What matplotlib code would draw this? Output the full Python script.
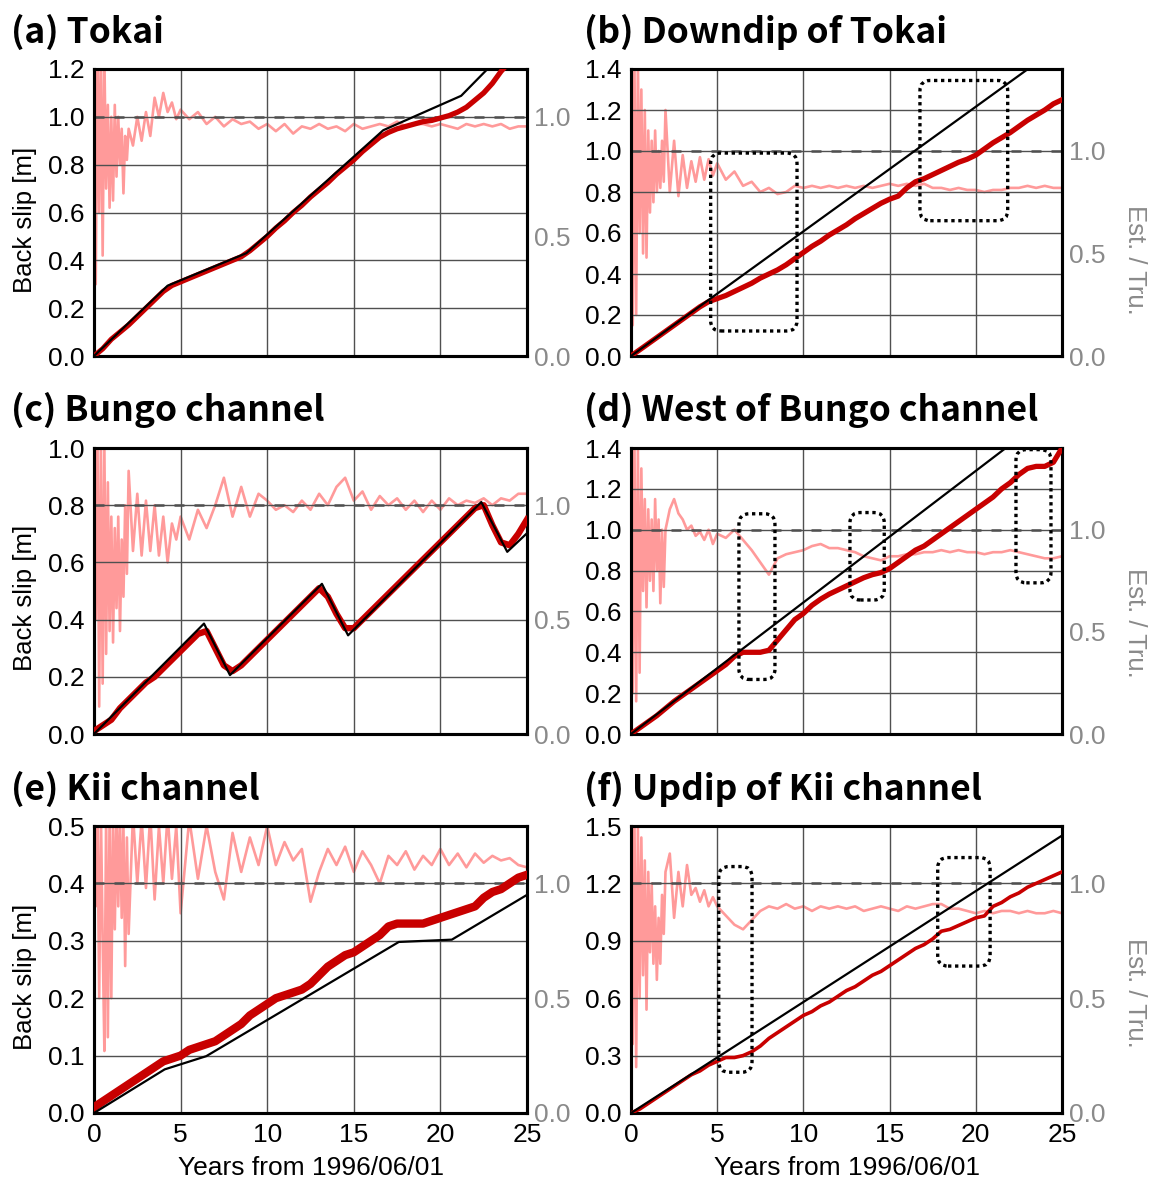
import numpy as np
import matplotlib
matplotlib.use("Agg")
import matplotlib.pyplot as plt
from matplotlib.patches import FancyBboxPatch

# ---------------- data ----------------
# sampling times (years from 1996/06/01)
T_EST = np.arange(0, 25.01, 0.5)
T_RATIO = np.concatenate([np.arange(0, 1.95, 0.1), np.arange(2, 4.8, 0.25), np.arange(5, 25.01, 0.5)])

# estimated back slip [m]
EST_A = [0.0, 0.03, 0.07, 0.1, 0.13, 0.165, 0.2, 0.235, 0.27, 0.295,
         0.31, 0.325, 0.34, 0.355, 0.37, 0.385, 0.4, 0.415, 0.44, 0.47,
         0.5, 0.535, 0.565, 0.6, 0.63, 0.665, 0.695, 0.725, 0.76, 0.79,
         0.82, 0.855, 0.885, 0.915, 0.935, 0.95, 0.96, 0.97, 0.98, 0.985,
         0.995, 1.005, 1.02, 1.04, 1.07, 1.1, 1.14, 1.19, 1.23, 1.26,
         1.29]
EST_B = [0.0, 0.03, 0.06, 0.09, 0.12, 0.15, 0.18, 0.21, 0.24, 0.265,
         0.28, 0.295, 0.315, 0.335, 0.355, 0.38, 0.4, 0.42, 0.445, 0.475,
         0.505, 0.535, 0.56, 0.59, 0.615, 0.64, 0.67, 0.695, 0.72, 0.745,
         0.765, 0.78, 0.82, 0.85, 0.865, 0.885, 0.905, 0.925, 0.945, 0.96,
         0.98, 1.01, 1.04, 1.065, 1.09, 1.12, 1.15, 1.175, 1.2, 1.23,
         1.25]
EST_C = [0.01, 0.03, 0.05, 0.09, 0.12, 0.15, 0.18, 0.2, 0.23, 0.26,
         0.29, 0.32, 0.35, 0.36, 0.3, 0.24, 0.22, 0.24, 0.27, 0.3,
         0.33, 0.36, 0.39, 0.42, 0.45, 0.48, 0.51, 0.48, 0.42, 0.37,
         0.37, 0.4, 0.43, 0.46, 0.49, 0.52, 0.55, 0.58, 0.61, 0.64,
         0.67, 0.7, 0.73, 0.76, 0.79, 0.8, 0.73, 0.67, 0.66, 0.7,
         0.75]
EST_D = [0.0, 0.03, 0.06, 0.09, 0.125, 0.16, 0.19, 0.22, 0.25, 0.28,
         0.31, 0.34, 0.38, 0.4, 0.4, 0.4, 0.41, 0.46, 0.51, 0.56,
         0.59, 0.63, 0.66, 0.685, 0.705, 0.725, 0.745, 0.765, 0.78, 0.79,
         0.81, 0.84, 0.87, 0.9, 0.92, 0.95, 0.98, 1.01, 1.04, 1.07,
         1.1, 1.13, 1.16, 1.2, 1.23, 1.27, 1.3, 1.31, 1.31, 1.33,
         1.4]
EST_E = [0.01, 0.02, 0.03, 0.04, 0.05, 0.06, 0.07, 0.08, 0.09, 0.095,
         0.1, 0.11, 0.115, 0.12, 0.125, 0.135, 0.145, 0.155, 0.17, 0.18,
         0.19, 0.2, 0.205, 0.21, 0.215, 0.225, 0.24, 0.255, 0.265, 0.275,
         0.28, 0.29, 0.3, 0.31, 0.325, 0.33, 0.33, 0.33, 0.33, 0.335,
         0.34, 0.345, 0.35, 0.355, 0.36, 0.375, 0.385, 0.39, 0.4, 0.41,
         0.415]
EST_F = [0.0, 0.02, 0.05, 0.08, 0.11, 0.14, 0.17, 0.2, 0.22, 0.25,
         0.27, 0.29, 0.29, 0.3, 0.32, 0.35, 0.39, 0.42, 0.45, 0.48,
         0.51, 0.53, 0.56, 0.58, 0.61, 0.64, 0.66, 0.69, 0.72, 0.74,
         0.77, 0.8, 0.83, 0.86, 0.88, 0.91, 0.95, 0.96, 0.98, 1.0,
         1.02, 1.03, 1.08, 1.1, 1.13, 1.15, 1.18, 1.2, 1.22, 1.24,
         1.26]

# true back slip (piecewise linear breakpoints)
TRUE_A_T = [0, 4.25, 8.8, 16.7, 21.2, 25]
TRUE_A = [0, 0.294, 0.43, 0.944, 1.088, 1.368]
TRUE_B_T = [0, 25]
TRUE_B = [0, 1.52]
TRUE_C_T = [0, 6.35, 7.85, 13.16, 14.67, 22.36, 23.86, 25]
TRUE_C = [0, 0.386, 0.206, 0.525, 0.345, 0.811, 0.637, 0.702]
TRUE_D_T = [0, 25]
TRUE_D = [0, 1.61]
TRUE_E_T = [0, 4.08, 6.48, 17.6, 20.66, 25]
TRUE_E = [0, 0.076, 0.099, 0.298, 0.302, 0.38]
TRUE_F_T = [0, 25]
TRUE_F = [0, 1.45]

# estimated / true ratio
RATIO_A = [1.3, 0.3, 1.3, 0.6, 1.3, 0.42, 1.25, 0.7, 1.05, 0.62, 1.0, 0.65, 1.05, 0.75, 1.0, 0.8, 0.95, 0.68, 0.92, 0.82,
           0.95, 0.88, 1.0, 0.9, 1.02, 0.92, 1.08, 1.0, 1.1, 1.02, 1.06, 0.99,
           1.03, 0.99, 1.02, 0.97, 1.0, 0.96, 0.99, 0.97, 0.98, 0.95,
           0.97, 0.94, 0.97, 0.93, 0.96, 0.95, 0.97, 0.95, 0.96, 0.94,
           0.97, 0.95, 0.96, 0.97, 0.96, 0.98, 0.96, 0.97, 0.97, 0.96,
           0.97, 0.96, 0.95, 0.97, 0.96, 0.97, 0.96, 0.97, 0.95, 0.96, 0.96]
RATIO_B = [1.5, 0.15, 1.45, 0.2, 1.45, 0.6, 1.3, 0.5, 1.2, 0.48, 1.1, 0.7, 1.05, 0.75, 1.1, 0.8, 1.0, 0.82, 1.05, 0.85,
           1.2, 0.8, 1.05, 0.78, 0.98, 0.82, 0.95, 0.85, 0.97, 0.86, 0.96, 0.88,
           0.94, 0.86, 0.9, 0.83, 0.85, 0.8, 0.82, 0.79, 0.8, 0.83,
           0.82, 0.83, 0.82, 0.83, 0.82, 0.83, 0.82, 0.83, 0.82, 0.83,
           0.84, 0.83, 0.84, 0.83, 0.84, 0.82, 0.82, 0.81, 0.82, 0.81,
           0.81, 0.8, 0.81, 0.81, 0.82, 0.82, 0.83, 0.82, 0.83, 0.82, 0.82]
RATIO_C = [1.3, 0.5, 1.3, 0.12, 1.3, 0.22, 1.25, 0.35, 1.1, 0.45, 0.95, 0.4, 0.9, 0.55, 0.95, 0.45, 0.85, 0.6, 1.0, 0.7,
           1.15, 0.8, 1.05, 0.78, 1.02, 0.8, 1.0, 0.78, 0.95, 0.75, 0.92, 0.85,
           0.95, 0.85, 0.98, 0.9, 1.0, 1.12, 0.95, 1.08, 0.95, 1.05,
           1.02, 0.98, 1.0, 0.97, 1.02, 0.98, 1.05, 1.0, 1.08, 1.12,
           1.02, 1.06, 0.98, 1.04, 1.0, 1.03, 0.98, 1.02, 0.97, 1.02,
           0.98, 1.03, 1.0, 1.02, 1.01, 1.03, 1.0, 1.03, 1.02, 1.05, 1.05]
RATIO_D = [1.5, 0.2, 1.45, 0.16, 1.4, 0.3, 1.3, 0.7, 1.15, 0.62, 1.1, 0.75, 1.05, 0.7, 1.15, 0.8, 1.05, 0.64, 1.0, 0.72,
           1.0, 1.1, 1.15, 1.08, 1.05, 1.0, 1.02, 0.97, 0.99, 0.95, 1.0, 0.93,
           0.98, 0.96, 1.0, 0.95, 0.9, 0.84, 0.78, 0.86, 0.88, 0.89,
           0.9, 0.92, 0.93, 0.91, 0.91, 0.9, 0.89, 0.87, 0.86, 0.85,
           0.87, 0.87, 0.88, 0.88, 0.89, 0.89, 0.9, 0.89, 0.9, 0.89,
           0.89, 0.88, 0.89, 0.89, 0.9, 0.89, 0.88, 0.87, 0.86, 0.86, 0.87]
RATIO_E = [1.3, 0.9, 1.3, 0.5, 1.3, 0.75, 0.27, 1.3, 0.33, 1.3, 0.5, 1.3, 0.8, 1.3, 0.9, 1.3, 0.85, 1.25, 0.64, 1.2,
           0.78, 1.3, 1.0, 1.28, 0.98, 1.3, 0.93, 1.25, 1.0, 1.3, 1.02, 1.25,
           0.87, 1.28, 1.02, 1.25, 1.05, 0.93, 1.22, 1.05, 1.2, 1.08,
           1.25, 1.08, 1.18, 1.1, 1.15, 0.92, 1.05, 1.15, 1.08, 1.16,
           1.05, 1.14, 1.08, 1.0, 1.12, 1.08, 1.14, 1.06, 1.12, 1.08,
           1.15, 1.08, 1.13, 1.07, 1.13, 1.09, 1.12, 1.1, 1.11, 1.08, 1.07]
RATIO_F = [1.3, 0.3, 1.3, 0.2, 1.25, 0.5, 1.2, 0.6, 1.1, 0.45, 1.05, 0.7, 1.0, 0.65, 0.9, 0.58, 0.85, 0.65, 0.95, 0.78,
           1.05, 1.13, 0.85, 1.05, 0.9, 1.08, 0.95, 0.98, 0.92, 0.97, 0.9, 0.94,
           0.9, 0.86, 0.82, 0.8, 0.84, 0.88, 0.9, 0.89, 0.91, 0.89,
           0.9, 0.88, 0.9, 0.89, 0.9, 0.89, 0.9, 0.88, 0.89, 0.9,
           0.89, 0.88, 0.9, 0.89, 0.9, 0.91, 0.91, 0.89, 0.89, 0.88,
           0.87, 0.88, 0.87, 0.88, 0.88, 0.87, 0.88, 0.87, 0.87, 0.88, 0.87]

TITLES = ["(a) Tokai", "(b) Downdip of Tokai", "(c) Bungo channel",
          "(d) West of Bungo channel", "(e) Kii channel", "(f) Updip of Kii channel"]
YTICKS = [[0, 0.2, 0.4, 0.6, 0.8, 1.0, 1.2],
          [0, 0.2, 0.4, 0.6, 0.8, 1.0, 1.2, 1.4],
          [0, 0.2, 0.4, 0.6, 0.8, 1.0],
          [0, 0.2, 0.4, 0.6, 0.8, 1.0, 1.2, 1.4],
          [0, 0.1, 0.2, 0.3, 0.4, 0.5],
          [0, 0.3, 0.6, 0.9, 1.2, 1.5]]
REF_SLIP = [1.0, 1.0, 0.8, 1.0, 0.4, 1.2]   # left-axis value where Est./Tru. = 1
RATIO_TICKS = [0.0, 0.5, 1.0]
X_TICKS = [0, 5, 10, 15, 20, 25]

# highlighted windows (t0, slip0, t1, slip1)
BOXES = {1: [(4.62, 0.122, 9.63, 0.99), (16.76, 0.66, 21.85, 1.344)],
         3: [(6.26, 0.267, 8.35, 1.078), (12.7, 0.656, 14.69, 1.084), (22.33, 0.74, 24.36, 1.392)],
         5: [(5.09, 0.213, 7.02, 1.288), (17.79, 0.768, 20.83, 1.335)]}

EST = [EST_A, EST_B, EST_C, EST_D, EST_E, EST_F]
TRUE_T = [TRUE_A_T, TRUE_B_T, TRUE_C_T, TRUE_D_T, TRUE_E_T, TRUE_F_T]
TRUE = [TRUE_A, TRUE_B, TRUE_C, TRUE_D, TRUE_E, TRUE_F]
RATIO = [RATIO_A, RATIO_B, RATIO_C, RATIO_D, RATIO_E, RATIO_F]

# ---------------- style ----------------
plt.rcParams['font.family'] = ['Liberation Sans', 'DejaVu Sans']
RED = '#c80000'
PINK = '#ff9a9a'
GREY_TXT = '#8a8a8a'
RED_LW = [3.8, 3.8, 4.6, 3.8, 6.0, 2.6]
EST_TRU_Y = [None, 0.334, None, 0.39, None, 0.418]
TICK_FS = 19
LABEL_FS = 18.5

W, H = 1151, 1185
fig = plt.figure(figsize=(W / 100, H / 100), dpi=100)

col_x = [(94, 433), (631, 431)]
row_y = [(69, 356), (448, 734), (826, 1113)]
title_base = [43, 421, 800]
title_x = [11, 584]

for i in range(6):
    r, c = divmod(i, 2)
    x0, wpx = col_x[c]
    top, bot = row_y[r]
    ax = fig.add_axes([x0 / W, 1 - bot / H, wpx / W, (bot - top) / H])
    ax2 = ax.twinx()
    ax.set_zorder(3)
    ax2.set_zorder(2)
    ax.patch.set_visible(False)

    ymax = YTICKS[i][-1]
    ref = REF_SLIP[i]

    # ratio (right axis)
    ax2.plot(T_RATIO, RATIO[i], color=PINK, lw=1.9, zorder=1)
    ax2.axhline(1.0, color='#505050', lw=1.8, dashes=(4, 4), zorder=2)
    ax2.set_ylim(0, ymax / ref)
    ax2.set_yticks(RATIO_TICKS)
    ax2.set_yticklabels([f'{v:.1f}' for v in RATIO_TICKS])
    ax2.tick_params(axis='y', length=0, labelsize=TICK_FS, labelcolor=GREY_TXT, pad=5)

    # slip (left axis)
    ax.plot(T_EST, EST[i], color=RED, lw=RED_LW[i], solid_joinstyle='round', zorder=3)
    ax.plot(TRUE_T[i], TRUE[i], color='black', lw=1.6, zorder=4)
    ax.set_xlim(0, 25)
    ax.set_ylim(0, ymax)
    ax.set_xticks(X_TICKS)
    ax.set_yticks(YTICKS[i])
    ax.set_yticklabels([f'{v:.1f}' for v in YTICKS[i]])
    ax.grid(True, color='#505050', lw=1.0, zorder=0)
    ax.tick_params(length=0, labelsize=TICK_FS)
    ax.tick_params(axis='y', pad=7)
    ax.tick_params(axis='x', pad=7)
    if r < 2:
        ax.tick_params(labelbottom=False)
    for a in (ax, ax2):
        for s in a.spines.values():
            s.set_linewidth(2.2)
            s.set_color('black')

    # boxes
    if i in BOXES:
        hpx = bot - top
        aspect = (ymax / hpx) / (25 / wpx)
        for (t0, s0, t1, s1) in BOXES[i]:
            p = FancyBboxPatch((t0, s0), t1 - t0, s1 - s0,
                               boxstyle='round,pad=0,rounding_size=0.6',
                               mutation_aspect=aspect, fill=False,
                               edgecolor='black', lw=2.4, linestyle=(0, (1, 1.1)),
                               zorder=5, clip_on=False)
            ax.add_patch(p)

    # labels
    if c == 0:
        ax.text(-0.159, 0.475, 'Back slip [m]', transform=ax.transAxes, rotation=90,
                ha='center', va='center', fontsize=LABEL_FS)
    else:
        ax.text(1.169, EST_TRU_Y[i], 'Est. / Tru.', transform=ax.transAxes, rotation=-90,
                ha='center', va='center', fontsize=LABEL_FS, color=GREY_TXT)
    if r == 2:
        ax.text(0.5, -0.192, 'Years from 1996/06/01', transform=ax.transAxes,
                ha='center', va='center', fontsize=LABEL_FS + 0.5)

    fig.text(title_x[c] / W, 1 - title_base[r] / H, TITLES[i], ha='left', va='baseline',
             fontsize=25.5, fontweight='bold', family=['Noto Sans CJK JP', 'DejaVu Sans'])

fig.savefig('out.png', dpi=100, facecolor='white')
